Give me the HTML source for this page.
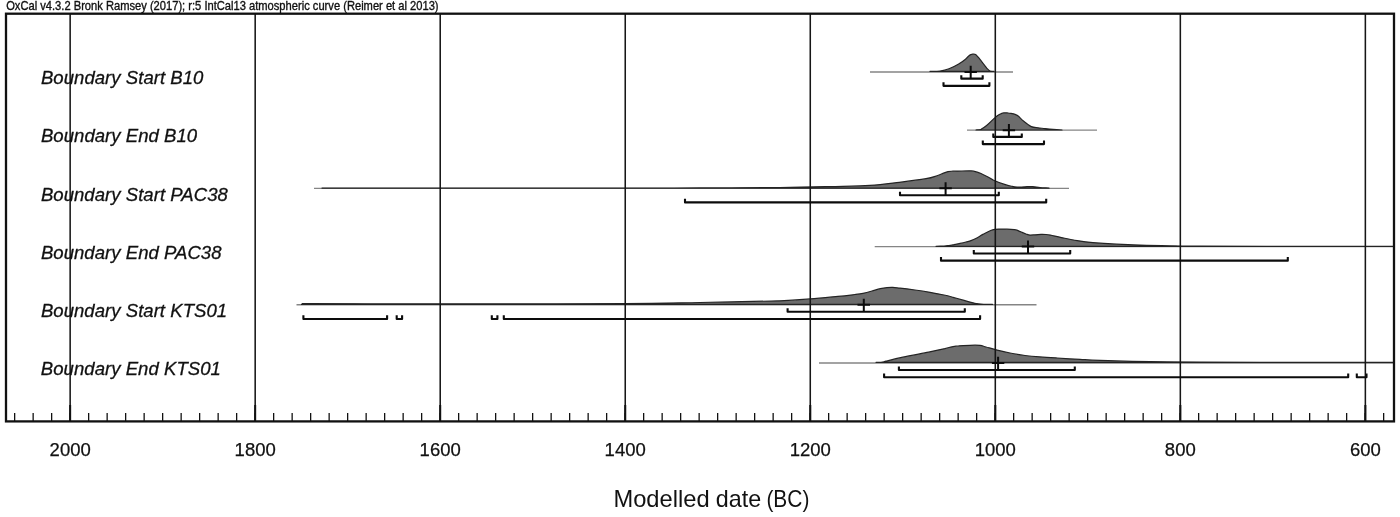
<!DOCTYPE html>
<html lang="en"><head><meta charset="utf-8"><title>OxCal modelled boundaries</title>
<style>html,body{margin:0;padding:0;background:#fff}body{width:1400px;height:517px;overflow:hidden}svg{display:block}text{font-family:"Liberation Sans",Arial,Helvetica,sans-serif;fill:#111}.lab{font-style:italic;font-size:18.55px;letter-spacing:.04px;stroke:#111;stroke-width:.3px}.tk{font-size:18.5px;text-anchor:middle;stroke:#111;stroke-width:.25px}.ttl{font-size:12.25px;stroke:#111;stroke-width:.35px}.ax{font-size:23.6px}</style></head><body>
<svg width="1400" height="517" viewBox="0 0 1400 517">
<rect width="1400" height="517" fill="#fff"/>
<text class="ttl" x="6.2" y="9.7" transform="rotate(0.02)" textLength="432.4" lengthAdjust="spacingAndGlyphs">OxCal v4.3.2 Bronk Ramsey (2017); r:5 IntCal13 atmospheric curve (Reimer et al 2013)</text>
<g>
<path d="M870.0 71.95H1013.0" stroke="#858585" stroke-width="1.4" fill="none"/>
<path d="M930.0 71.4C931.7 71.3 936.8 71.4 940.0 71.0C943.2 70.6 945.9 70.0 949.0 68.8C952.1 67.6 956.0 65.6 958.7 64.0C961.5 62.4 963.8 60.6 965.5 59.2C967.2 57.8 968.0 56.5 969.0 55.7C970.0 54.9 970.8 54.6 971.5 54.4C972.2 54.1 972.8 54.2 973.5 54.2C974.2 54.2 974.8 54.1 975.6 54.6C976.4 55.1 977.2 56.1 978.2 57.2C979.2 58.3 980.4 60.0 981.5 61.4C982.6 62.8 984.0 64.5 985.0 65.8C986.0 67.1 986.8 68.3 987.7 69.2C988.6 70.1 989.5 70.8 990.5 71.2C991.5 71.4 993.4 71.4 994.0 71.4Z" fill="#6c6c6c" stroke="#242424" stroke-width="1.2" stroke-linejoin="round"/>
</g>
<g>
<path d="M967.0 130.16H1097.0" stroke="#858585" stroke-width="1.4" fill="none"/>
<path d="M976.0 130.0C976.8 129.9 979.2 130.0 981.0 129.3C982.8 128.5 984.2 127.5 986.6 125.5C989.0 123.5 992.9 119.5 995.1 117.6C997.3 115.7 998.6 115.0 1000.0 114.2C1001.4 113.4 1002.4 113.1 1003.7 112.9C1005.0 112.7 1006.6 112.9 1008.0 113.0C1009.4 113.1 1010.8 113.4 1012.0 113.6C1013.2 113.8 1014.0 114.0 1015.0 114.4C1016.0 114.8 1016.3 114.7 1017.8 115.8C1019.3 116.9 1021.5 119.5 1023.8 121.3C1026.0 123.1 1028.9 125.5 1031.3 126.6C1033.7 127.7 1035.7 127.5 1038.0 127.8C1040.3 128.1 1042.6 128.3 1045.1 128.6C1047.6 128.9 1050.2 129.2 1053.0 129.4C1055.8 129.6 1060.5 129.9 1062.0 130.0Z" fill="#6c6c6c" stroke="#242424" stroke-width="1.2" stroke-linejoin="round"/>
</g>
<g>
<path d="M314.0 188.37H1069.0" stroke="#858585" stroke-width="1.4" fill="none"/>
<path d="M322.0 188.1C351.7 188.1 449.5 188.1 500.0 188.1C550.5 188.1 591.7 188.1 625.0 188.1C658.3 188.0 674.2 188.0 700.0 187.9C725.8 187.9 758.3 187.8 780.0 187.6C801.7 187.4 815.0 187.0 830.0 186.6C845.0 186.2 858.5 186.1 870.0 185.4C881.5 184.7 890.0 183.4 899.3 182.3C908.6 181.2 919.7 179.8 926.0 178.7C932.3 177.6 934.2 176.6 937.0 175.7C939.8 174.8 941.2 174.1 943.0 173.4C944.8 172.7 946.3 172.0 948.0 171.6C949.7 171.2 950.7 171.3 953.0 171.2C955.3 171.1 958.9 171.1 962.0 171.0C965.1 170.9 969.2 170.8 971.6 170.9C974.0 171.1 974.9 171.5 976.5 171.9C978.1 172.3 979.2 172.7 981.0 173.5C982.8 174.3 984.9 175.4 987.0 176.5C989.1 177.6 990.7 178.9 993.6 180.2C996.5 181.5 1001.5 183.4 1004.6 184.4C1007.7 185.4 1009.9 185.9 1012.0 186.4C1014.1 186.9 1014.9 187.1 1017.1 187.2C1019.3 187.3 1022.4 186.9 1025.0 186.8C1027.6 186.7 1030.3 186.5 1032.8 186.6C1035.3 186.7 1037.3 187.4 1040.0 187.6C1042.7 187.8 1047.5 188.0 1049.0 188.1Z" fill="#6c6c6c" stroke="#242424" stroke-width="1.2" stroke-linejoin="round"/>
</g>
<g>
<path d="M874.7 246.58H1393.0" stroke="#858585" stroke-width="1.4" fill="none"/>
<path d="M936.0 246.3C937.3 246.2 941.8 246.1 944.0 246.0C946.2 245.9 947.3 245.7 949.0 245.5C950.7 245.3 952.2 244.9 954.0 244.6C955.8 244.2 958.0 243.8 960.0 243.4C962.0 243.0 964.2 242.5 966.0 242.0C967.8 241.5 969.4 241.2 971.0 240.6C972.6 240.0 974.5 239.2 975.8 238.5C977.1 237.8 977.8 237.4 979.0 236.7C980.2 236.0 980.9 235.4 982.9 234.4C984.9 233.4 988.7 231.3 990.7 230.5C992.7 229.7 993.7 229.6 995.0 229.4C996.3 229.2 996.6 229.1 998.6 229.1C1000.6 229.1 1004.4 229.1 1007.0 229.2C1009.6 229.3 1012.5 229.5 1014.3 229.7C1016.1 229.9 1016.7 230.1 1018.0 230.6C1019.3 231.1 1020.8 231.8 1022.1 232.4C1023.4 233.0 1024.7 233.6 1026.0 234.0C1027.3 234.4 1028.5 235.0 1030.0 235.1C1031.5 235.2 1033.2 234.9 1035.0 234.8C1036.8 234.7 1039.2 234.5 1041.0 234.4C1042.8 234.3 1044.4 234.4 1046.0 234.5C1047.6 234.6 1047.8 234.6 1050.4 235.1C1053.0 235.6 1057.0 236.7 1061.4 237.6C1065.9 238.5 1071.8 239.8 1077.1 240.6C1082.3 241.4 1086.4 242.0 1092.9 242.6C1099.5 243.2 1108.6 243.8 1116.4 244.2C1124.2 244.6 1131.1 244.9 1140.0 245.2C1148.9 245.5 1160.0 245.7 1170.0 245.8C1180.0 246.0 1180.0 246.0 1200.0 246.1C1220.0 246.2 1257.8 246.2 1290.0 246.3C1322.2 246.3 1375.8 246.3 1393.0 246.3Z" fill="#6c6c6c" stroke="#242424" stroke-width="1.2" stroke-linejoin="round"/>
</g>
<g>
<path d="M296.5 304.79H1036.5" stroke="#858585" stroke-width="1.4" fill="none"/>
<path d="M301.5 304.4C302.2 304.3 304.6 304.1 306.0 304.0C307.4 303.9 294.3 303.6 310.0 303.6C325.7 303.6 368.3 303.8 400.0 303.8C431.7 303.8 462.5 303.9 500.0 303.8C537.5 303.8 591.7 303.7 625.0 303.5C658.3 303.3 674.2 302.9 700.0 302.5C725.8 302.1 761.7 301.4 780.0 300.8C798.3 300.2 800.4 299.6 810.0 298.9C819.6 298.2 830.4 297.1 837.9 296.4C845.4 295.7 850.8 295.0 855.0 294.5C859.2 294.0 860.2 293.9 863.0 293.3C865.8 292.7 869.1 291.8 872.0 291.0C874.9 290.2 877.8 289.3 880.3 288.7C882.8 288.1 884.9 287.8 887.0 287.6C889.1 287.4 890.6 287.3 892.8 287.4C895.0 287.5 896.3 287.7 900.0 288.1C903.7 288.5 910.0 289.3 915.0 290.0C920.0 290.7 925.2 291.5 930.0 292.3C934.8 293.1 940.2 294.2 944.0 295.0C947.8 295.8 949.8 296.4 953.0 297.3C956.2 298.2 960.4 299.4 963.2 300.2C966.0 301.0 967.8 301.5 970.0 302.1C972.2 302.7 974.9 303.2 976.7 303.6C978.5 304.0 979.5 304.1 981.0 304.2C982.5 304.3 984.1 304.4 986.0 304.4C987.9 304.4 991.4 304.4 992.5 304.4Z" fill="#6c6c6c" stroke="#242424" stroke-width="1.2" stroke-linejoin="round"/>
</g>
<g>
<path d="M819.0 363.00H1393.0" stroke="#858585" stroke-width="1.4" fill="none"/>
<path d="M876.0 362.3C876.8 362.3 879.3 362.3 881.0 362.3C882.7 362.1 882.4 362.1 886.0 361.2C889.6 360.3 895.8 358.7 902.9 357.2C910.0 355.7 921.6 353.6 928.6 352.2C935.6 350.8 941.1 349.5 945.0 348.6C948.9 347.7 949.7 347.2 952.0 346.8C954.3 346.4 955.6 346.1 958.6 345.9C961.6 345.6 966.4 345.4 970.0 345.3C973.6 345.2 977.3 345.1 980.0 345.4C982.7 345.7 983.1 346.2 986.0 347.0C988.9 347.8 993.1 349.1 997.1 350.1C1001.1 351.1 1005.4 352.1 1010.0 353.0C1014.6 353.9 1020.0 354.9 1025.0 355.5C1030.0 356.1 1034.7 356.5 1040.0 356.9C1045.3 357.3 1050.4 357.6 1057.1 358.0C1063.8 358.4 1072.8 359.0 1080.0 359.4C1087.2 359.8 1088.3 360.0 1100.0 360.4C1111.7 360.8 1133.3 361.3 1150.0 361.6C1166.7 361.9 1181.7 362.1 1200.0 362.2C1218.3 362.3 1238.3 362.3 1260.0 362.3C1281.7 362.3 1307.8 362.3 1330.0 362.3C1352.2 362.3 1382.5 362.3 1393.0 362.3Z" fill="#6c6c6c" stroke="#242424" stroke-width="1.2" stroke-linejoin="round"/>
</g>
<g stroke="#161616" stroke-width="1.55">
<path d="M70.15 14V421"/>
<path d="M255.18 14V421"/>
<path d="M440.21 14V421"/>
<path d="M625.24 14V421"/>
<path d="M810.27 14V421"/>
<path d="M995.30 14V421"/>
<path d="M1180.33 14V421"/>
<path d="M1365.36 14V421"/>
</g>
<g stroke="#0c0c0c" fill="none" stroke-width="2.1" stroke-linejoin="round">
<path d="M961.3 75.15V78.65H982.7V75.15"/>
<path d="M943.5 82.25V85.85H989.4V82.25"/>
<path d="M993.3 133.42V136.92H1021.8V133.42"/>
<path d="M982.8 140.52V144.12H1044.0V140.52"/>
<path d="M900.0 191.69V195.19H998.8V191.69"/>
<path d="M685.0 198.79V202.39H1046.2V198.79"/>
<path d="M973.8 249.96V253.46H1070.2V249.96"/>
<path d="M941.0 257.06V260.66H1287.8V257.06"/>
<path d="M787.6 308.23V311.73H964.8V308.23"/>
<path d="M303.4 315.33V318.93H387.1V315.33"/>
<path d="M396.7 315.33V318.93H402.1V315.33"/>
<path d="M491.8 315.33V318.93H497.4V315.33"/>
<path d="M503.8 315.33V318.93H980.1V315.33"/>
<path d="M898.9 366.50V370.00H1074.8V366.50"/>
<path d="M884.1 373.60V377.20H1348.2V373.60"/>
<path d="M1356.8 373.60V377.20H1366.5V373.60"/>
</g>
<g stroke="#0c0c0c" fill="none" stroke-width="2">
<path d="M970.7 65.80V78.65M964.5 71.95H976.9"/>
<path d="M1008.9 124.01V136.92M1002.7 130.16H1015.1"/>
<path d="M945.6 182.22V195.19M939.4 188.37H951.8"/>
<path d="M1028.0 240.43V253.46M1021.8 246.58H1034.2"/>
<path d="M863.8 298.64V311.73M857.5 304.79H870.0"/>
<path d="M998.1 356.85V370.00M991.9 363.00H1004.3"/>
</g>
<g stroke="#111" stroke-width="1.3">
<path d="M14.65 413V421"/>
<path d="M33.15 413V421"/>
<path d="M51.65 413V421"/>
<path d="M70.15 413V421"/>
<path d="M88.65 413V421"/>
<path d="M107.15 413V421"/>
<path d="M125.65 413V421"/>
<path d="M144.15 413V421"/>
<path d="M162.65 413V421"/>
<path d="M181.15 413V421"/>
<path d="M199.65 413V421"/>
<path d="M218.15 413V421"/>
<path d="M236.65 413V421"/>
<path d="M255.15 413V421"/>
<path d="M273.65 413V421"/>
<path d="M292.15 413V421"/>
<path d="M310.65 413V421"/>
<path d="M329.15 413V421"/>
<path d="M347.65 413V421"/>
<path d="M366.15 413V421"/>
<path d="M384.65 413V421"/>
<path d="M403.15 413V421"/>
<path d="M421.65 413V421"/>
<path d="M440.15 413V421"/>
<path d="M458.65 413V421"/>
<path d="M477.15 413V421"/>
<path d="M495.65 413V421"/>
<path d="M514.15 413V421"/>
<path d="M532.65 413V421"/>
<path d="M551.15 413V421"/>
<path d="M569.65 413V421"/>
<path d="M588.15 413V421"/>
<path d="M606.65 413V421"/>
<path d="M625.15 413V421"/>
<path d="M643.65 413V421"/>
<path d="M662.15 413V421"/>
<path d="M680.65 413V421"/>
<path d="M699.15 413V421"/>
<path d="M717.65 413V421"/>
<path d="M736.15 413V421"/>
<path d="M754.65 413V421"/>
<path d="M773.15 413V421"/>
<path d="M791.65 413V421"/>
<path d="M810.15 413V421"/>
<path d="M828.65 413V421"/>
<path d="M847.15 413V421"/>
<path d="M865.65 413V421"/>
<path d="M884.15 413V421"/>
<path d="M902.65 413V421"/>
<path d="M921.15 413V421"/>
<path d="M939.65 413V421"/>
<path d="M958.15 413V421"/>
<path d="M976.65 413V421"/>
<path d="M995.15 413V421"/>
<path d="M1013.65 413V421"/>
<path d="M1032.15 413V421"/>
<path d="M1050.65 413V421"/>
<path d="M1069.15 413V421"/>
<path d="M1087.65 413V421"/>
<path d="M1106.15 413V421"/>
<path d="M1124.65 413V421"/>
<path d="M1143.15 413V421"/>
<path d="M1161.65 413V421"/>
<path d="M1180.15 413V421"/>
<path d="M1198.65 413V421"/>
<path d="M1217.15 413V421"/>
<path d="M1235.65 413V421"/>
<path d="M1254.15 413V421"/>
<path d="M1272.65 413V421"/>
<path d="M1291.15 413V421"/>
<path d="M1309.65 413V421"/>
<path d="M1328.15 413V421"/>
<path d="M1346.65 413V421"/>
<path d="M1365.15 413V421"/>
<path d="M1383.65 413V421"/>
</g>
<g stroke="#111" stroke-width="2">
<path d="M70.15 405V421"/>
<path d="M255.18 405V421"/>
<path d="M440.21 405V421"/>
<path d="M625.24 405V421"/>
<path d="M810.27 405V421"/>
<path d="M995.30 405V421"/>
<path d="M1180.33 405V421"/>
<path d="M1365.36 405V421"/>
</g>
<rect x="6.0" y="13.7" width="1388.0" height="407.7" fill="none" stroke="#111" stroke-width="2.3"/>
<text class="lab" x="41" y="84.1" transform="rotate(0.02)">Boundary Start B10</text>
<text class="lab" x="41" y="142.3" transform="rotate(0.02)">Boundary End B10</text>
<text class="lab" x="41" y="200.5" transform="rotate(0.02)">Boundary Start PAC38</text>
<text class="lab" x="41" y="258.7" transform="rotate(0.02)">Boundary End PAC38</text>
<text class="lab" x="41" y="316.9" transform="rotate(0.02)">Boundary Start KTS01</text>
<text class="lab" x="41" y="375.1" transform="rotate(0.02)">Boundary End KTS01</text>
<text class="tk" x="70.2" y="456.2">2000</text>
<text class="tk" x="255.2" y="456.2">1800</text>
<text class="tk" x="440.2" y="456.2">1600</text>
<text class="tk" x="625.2" y="456.2">1400</text>
<text class="tk" x="810.3" y="456.2">1200</text>
<text class="tk" x="995.3" y="456.2">1000</text>
<text class="tk" x="1180.3" y="456.2">800</text>
<text class="tk" x="1365.4" y="456.2">600</text>
<text class="ax" y="507"><tspan x="613.4" textLength="96.2" lengthAdjust="spacingAndGlyphs">Modelled</tspan> <tspan x="715.8" textLength="45.4" lengthAdjust="spacingAndGlyphs">date</tspan> <tspan x="766.4" textLength="43" lengthAdjust="spacingAndGlyphs">(BC)</tspan></text>
</svg></body></html>
